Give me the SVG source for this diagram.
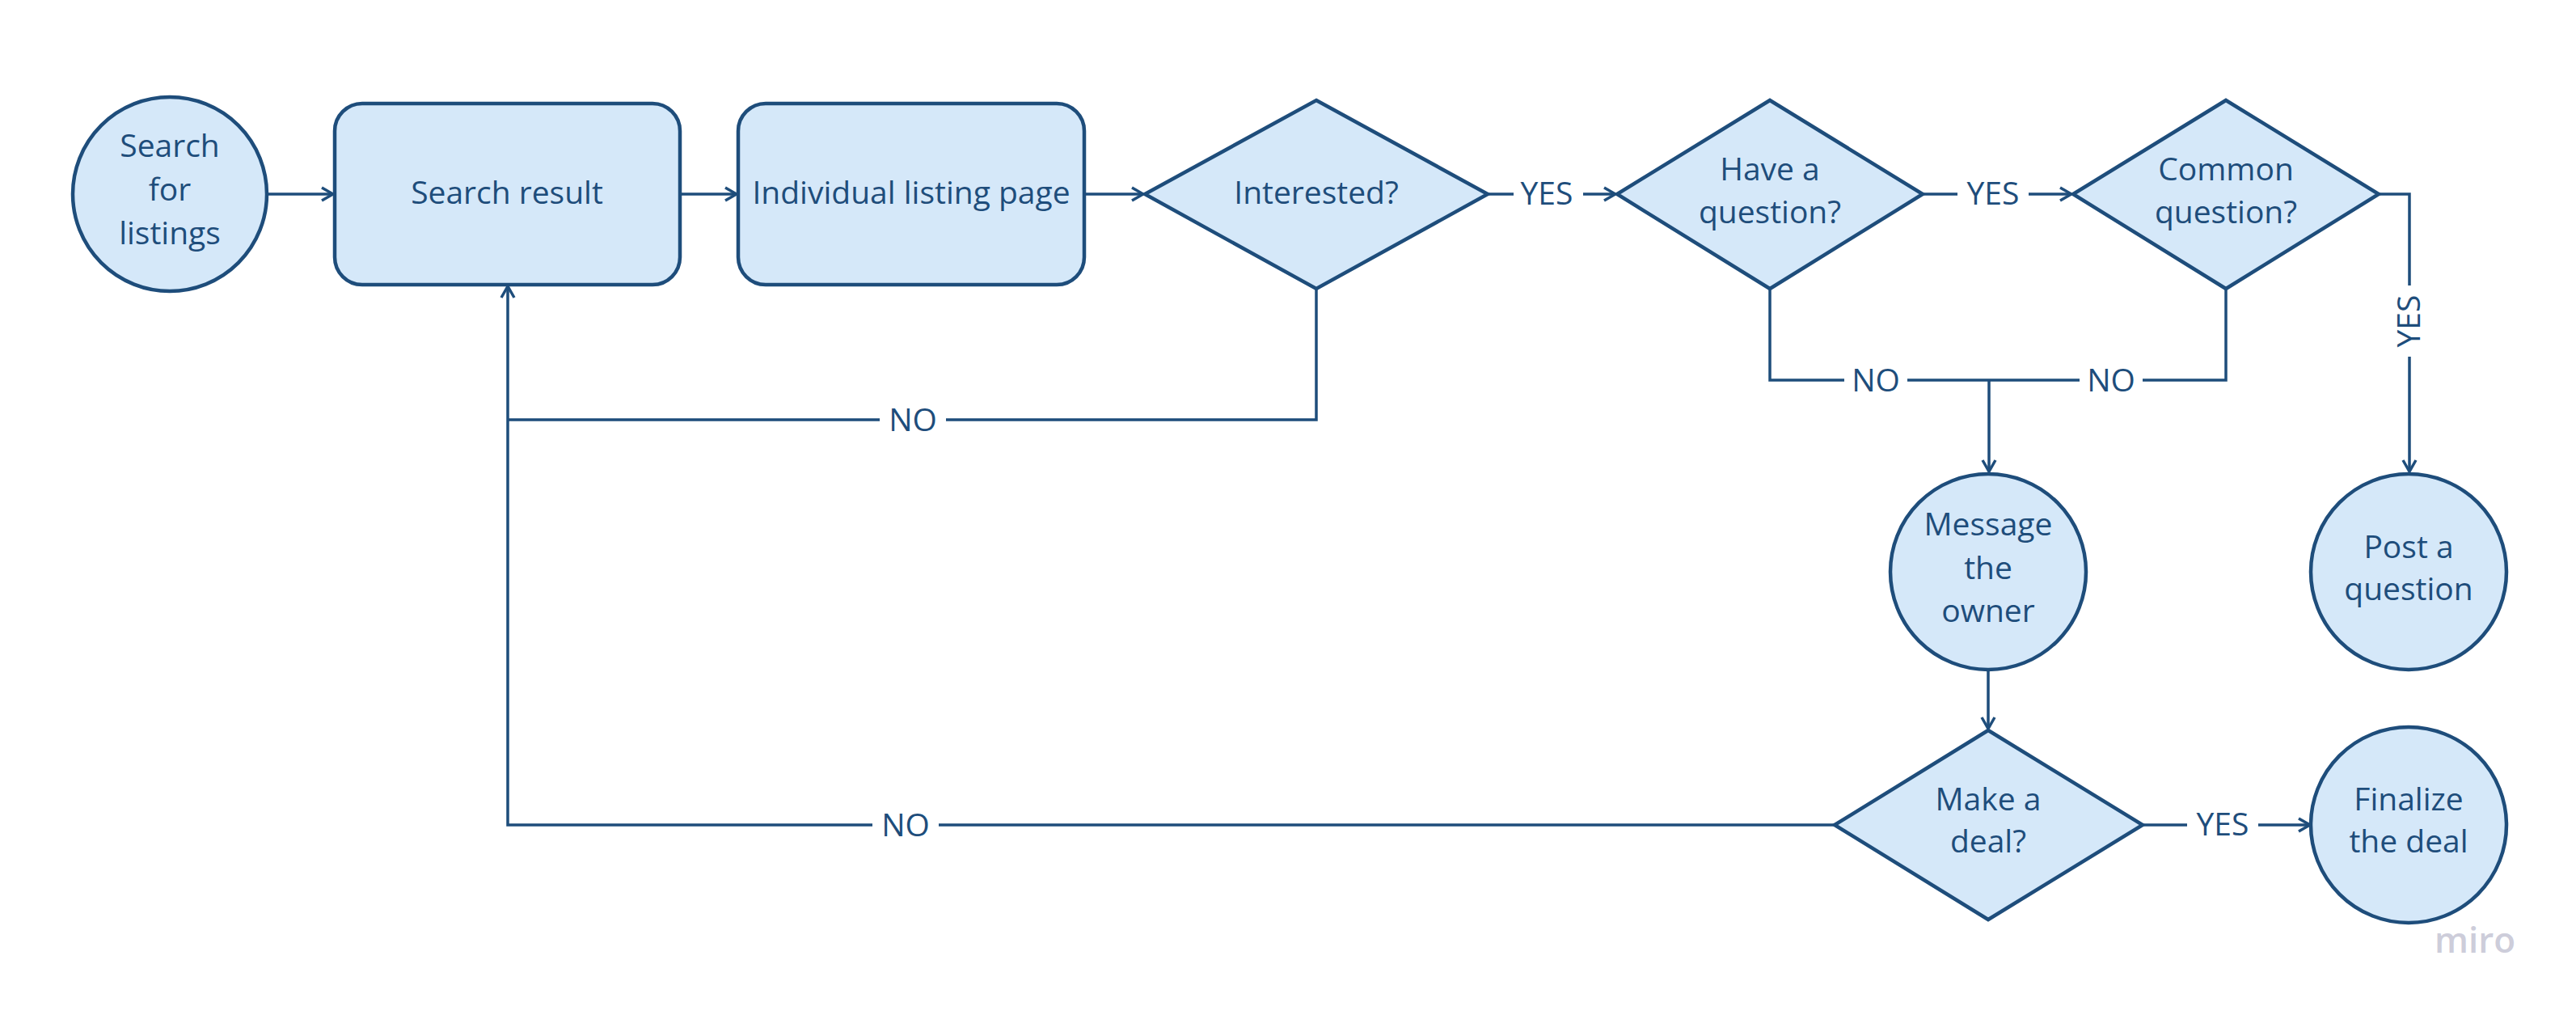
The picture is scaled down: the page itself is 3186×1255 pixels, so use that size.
<svg xmlns="http://www.w3.org/2000/svg" width="3186" height="1255" viewBox="0 0 3186 1255">
<defs>
<style>
.shape{fill:#d5e8f9;stroke:#1e4d7b;stroke-width:4.5}
.t{font-family:"Open Sans","Noto Sans","Liberation Sans",sans-serif;font-size:39px;fill:#1e4d7b;text-anchor:middle}
.c{fill:none;stroke:#1e4d7b;stroke-width:3.5}
.lbl{fill:#ffffff}
</style>
<marker id="arr" viewBox="0 0 20 20" refX="18" refY="10" markerWidth="20" markerHeight="20" markerUnits="userSpaceOnUse" orient="auto">
<path d="M4,2 L18,10 L4,18" fill="none" stroke="#1e4d7b" stroke-width="3.5"/>
</marker>
</defs>
<rect width="3186" height="1255" fill="#ffffff"/>

<g id="connectors">
<path class="c" d="M331,240 H412" marker-end="url(#arr)"/>
<path class="c" d="M841,240 H911" marker-end="url(#arr)"/>
<path class="c" d="M1341,240 H1414" marker-end="url(#arr)"/>
<path class="c" d="M1840,240 H1998" marker-end="url(#arr)"/>
<path class="c" d="M2378,240 H2562" marker-end="url(#arr)"/>
<path class="c" d="M2942,240 H2980 V583" marker-end="url(#arr)"/>
<path class="c" d="M2189,357 V470 H2753 V357"/>
<path class="c" d="M2460,470 V583" marker-end="url(#arr)"/>
<path class="c" d="M2459,828 V901" marker-end="url(#arr)"/>
<path class="c" d="M2650,1020 H2857" marker-end="url(#arr)"/>
<path class="c" d="M1628,357 V519 H628"/>
<path class="c" d="M2269,1020 H628 V354" marker-end="url(#arr)"/>
<g id="labels">
<rect class="lbl" x="1872" y="215" width="86" height="50"/>
<text class="t" x="1913" y="253">YES</text>
<rect class="lbl" x="2421" y="215" width="88" height="50"/>
<text class="t" x="2465" y="253">YES</text>
<rect class="lbl" x="2955" y="353" width="50" height="88"/>
<text class="t" transform="translate(2993,397) rotate(-90)" x="0" y="0">YES</text>
<rect class="lbl" x="2281" y="445" width="78" height="50"/>
<text class="t" x="2320" y="484">NO</text>
<rect class="lbl" x="2572" y="445" width="78" height="50"/>
<text class="t" x="2611" y="484">NO</text>
<rect class="lbl" x="1088" y="494" width="82" height="50"/>
<text class="t" x="1129" y="533">NO</text>
<rect class="lbl" x="1079" y="995" width="82" height="50"/>
<text class="t" x="1120" y="1034">NO</text>
<rect class="lbl" x="2705" y="995" width="88" height="50"/>
<text class="t" x="2749" y="1033">YES</text>
</g>
</g>

<g id="search-for-listings">
<circle class="shape" cx="210" cy="240" r="120"/>
<text class="t" x="210" y="194">Search</text>
<text class="t" x="210" y="248">for</text>
<text class="t" x="210" y="302">listings</text>
</g>
<g id="search-result">
<rect class="shape" x="414" y="128" width="427" height="224" rx="34"/>
<text class="t" x="627" y="252">Search result</text>
</g>
<g id="individual-listing-page">
<rect class="shape" x="913" y="128" width="428" height="224" rx="34"/>
<text class="t" x="1127" y="252">Individual listing page</text>
</g>
<g id="interested">
<polygon class="shape" points="1628,124 1840,240 1628,357 1416,240"/>
<text class="t" x="1628" y="252">Interested?</text>
</g>
<g id="have-a-question">
<polygon class="shape" points="2189,124 2378,240 2189,357 2000,240"/>
<text class="t" x="2189" y="223">Have a</text>
<text class="t" x="2189" y="276">question?</text>
</g>
<g id="common-question">
<polygon class="shape" points="2753,124 2942,240 2753,357 2564,240"/>
<text class="t" x="2753" y="223">Common</text>
<text class="t" x="2753" y="276">question?</text>
</g>
<g id="message-the-owner">
<circle class="shape" cx="2459" cy="707" r="121"/>
<text class="t" x="2459" y="662">Message</text>
<text class="t" x="2459" y="716">the</text>
<text class="t" x="2459" y="769">owner</text>
</g>
<g id="post-a-question">
<circle class="shape" cx="2979" cy="707" r="121"/>
<text class="t" x="2979" y="690">Post a</text>
<text class="t" x="2979" y="742">question</text>
</g>
<g id="make-a-deal">
<polygon class="shape" points="2459,903 2650,1020 2459,1137 2269,1020"/>
<text class="t" x="2459" y="1002">Make a</text>
<text class="t" x="2459" y="1054">deal?</text>
</g>
<g id="finalize-the-deal">
<circle class="shape" cx="2979" cy="1020" r="121"/>
<text class="t" x="2979" y="1002">Finalize</text>
<text class="t" x="2979" y="1054">the deal</text>
</g>
<text x="3061" y="1178" font-family="'Open Sans','Noto Sans',sans-serif" font-size="44" font-weight="600" fill="#cdcdda" text-anchor="middle">miro</text>
</svg>
